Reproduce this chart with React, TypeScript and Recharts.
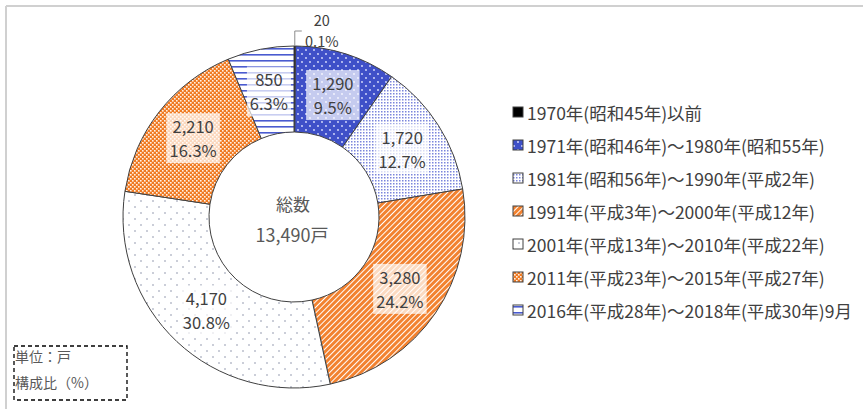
import React from 'react';
import { PieChart, Pie, Cell } from 'recharts';

const categories = [
  '1970年(昭和45年)以前',
  '1971年(昭和46年)～1980年(昭和55年)',
  '1981年(昭和56年)～1990年(平成2年)',
  '1991年(平成3年)～2000年(平成12年)',
  '2001年(平成13年)～2010年(平成22年)',
  '2011年(平成23年)～2015年(平成27年)',
  '2016年(平成28年)～2018年(平成30年)9月',
];
const values = [20, 1290, 1720, 3280, 4170, 2210, 850];
const valueLabels = ['20', '1,290', '1,720', '3,280', '4,170', '2,210', '850'];
const percentLabels = ['0.1%', '9.5%', '12.7%', '24.2%', '30.8%', '16.3%', '6.3%'];
const fills = ['#000000', 'url(#patBlue)', 'url(#patLight)', 'url(#patDiag)', 'url(#patDots)', 'url(#patCheck)', 'url(#patStripe)'];
const totalLabel = '総数';
const totalValue = '13,490戸';
const unitLines = ['単位：戸', '構成比（%）'];

const data = categories.map((name, i) => ({
  name,
  value: values[i],
  vLabel: valueLabels[i],
  pLabel: percentLabels[i],
  fill: fills[i],
}));

const FONT = '"Noto Sans CJK JP", "Noto Sans", sans-serif';
const RAD = Math.PI / 180;

const renderLabel = (props: any) => {
  const { cx, cy, midAngle, innerRadius, outerRadius, index } = props;
  const d = data[index];
  if (index === 0) {
    const px = cx + outerRadius * Math.cos(-midAngle * RAD);
    const py = cy + outerRadius * Math.sin(-midAngle * RAD);
    return (
      <g>
        <polyline points={`${px},${py} ${px},${py - 15} ${px + 7},${py - 15}`} fill="none" stroke="#8c8c8c" strokeWidth={1} />
        <text x={px + 27} y={py - 27} textAnchor="middle" dominantBaseline="central" fontSize={14.5} fill="#404040" fontFamily={FONT}>{d.vLabel}</text>
        <text x={px + 27} y={py - 6} textAnchor="middle" dominantBaseline="central" fontSize={14.5} fill="#404040" fontFamily={FONT}>{d.pLabel}</text>
      </g>
    );
  }
  const r = (innerRadius + outerRadius) / 2;
  const x = cx + r * Math.cos(-midAngle * RAD);
  const y = cy + r * Math.sin(-midAngle * RAD);
  const w = Math.max(d.vLabel.length, d.pLabel.length) * 9.5 + 6;
  return (
    <g>
      <rect x={x - w / 2} y={y - 25} width={w} height={50} fill="#ffffff" fillOpacity={0.7} />
      <text x={x} y={y - 12} textAnchor="middle" dominantBaseline="central" fontSize={16.5} fill="#404040" fontFamily={FONT}>{d.vLabel}</text>
      <text x={x} y={y + 12} textAnchor="middle" dominantBaseline="central" fontSize={16.5} fill="#404040" fontFamily={FONT}>{d.pLabel}</text>
    </g>
  );
};

const LEG_X = 513;
const LEG_Y = 112;
const LEG_STEP = 33;

export default function App() {
  return (
    <div style={{ position: 'absolute', left: 0, top: 0, width: 863, height: 409, background: '#fff' }}>
      <PieChart width={863} height={409} margin={{ top: 0, right: 0, bottom: 0, left: 0 }}>
        <defs>
          <pattern id="patBlue" patternUnits="userSpaceOnUse" width={8} height={8}>
            <rect width={8} height={8} fill="#3f50c8" />
            <circle cx={2} cy={2} r={0.9} fill="#dfe3ff" />
            <circle cx={6} cy={6} r={0.9} fill="#dfe3ff" />
          </pattern>
          <pattern id="patLight" patternUnits="userSpaceOnUse" width={3} height={3}>
            <rect width={3} height={3} fill="#ffffff" />
            <rect width={1.5} height={1.5} fill="#7b86dc" />
          </pattern>
          <pattern id="patDiag" patternUnits="userSpaceOnUse" width={4} height={4} patternTransform="rotate(45)">
            <rect width={4} height={4} fill="#f28230" />
            <rect width={1} height={4} fill="#ffffff" />
          </pattern>
          <pattern id="patDots" patternUnits="userSpaceOnUse" width={12} height={12}>
            <rect width={12} height={12} fill="#ffffff" />
            <circle cx={3} cy={3} r={0.8} fill="#8a90a8" />
            <circle cx={9} cy={9} r={0.8} fill="#8a90a8" />
          </pattern>
          <pattern id="patCheck" patternUnits="userSpaceOnUse" width={4} height={4}>
            <rect width={4} height={4} fill="#f07a22" />
            <rect x={0} y={0} width={1.6} height={1.6} fill="#fff2e6" />
            <rect x={2} y={2} width={1.6} height={1.6} fill="#fff2e6" />
          </pattern>
          <pattern id="patStripe" patternUnits="userSpaceOnUse" width={6} height={6}>
            <rect width={6} height={6} fill="#ffffff" />
            <rect y={0} width={6} height={1.6} fill="#4a5bd0" />
          </pattern>
        </defs>
        <line x1={6} y1={6} x2={863} y2={6} stroke="#d0d0d0" strokeWidth={2} />
        <line x1={6} y1={6} x2={6} y2={409} stroke="#d0d0d0" strokeWidth={2} />
        <Pie
          data={data}
          dataKey="value"
          nameKey="name"
          cx={294}
          cy={217}
          innerRadius={85}
          outerRadius={171}
          startAngle={90}
          endAngle={-270}
          stroke="#404040"
          strokeWidth={1}
          label={renderLabel}
          labelLine={false}
          isAnimationActive={false}
        >
          {data.map((d) => (
            <Cell key={d.name} fill={d.fill} />
          ))}
        </Pie>
        <text x={293} y={203} textAnchor="middle" dominantBaseline="central" fontSize={17} fill="#595959" fontFamily={FONT}>{totalLabel}</text>
        <text x={292} y={234} textAnchor="middle" dominantBaseline="central" fontSize={18} fill="#595959" fontFamily={FONT}>{totalValue}</text>
        <rect x={14} y={346} width={113} height={54} fill="none" stroke="#000" strokeWidth={1.3} strokeDasharray="4 3" />
        <text x={15} y={356} dominantBaseline="central" fontSize={14} fill="#595959" fontFamily={FONT}>{unitLines[0]}</text>
        <text x={15} y={382} dominantBaseline="central" fontSize={14} fill="#595959" fontFamily={FONT}>{unitLines[1]}</text>
        <g>
          {data.map((d, i) => (
            <g key={d.name}>
              <rect x={LEG_X} y={LEG_Y + i * LEG_STEP - 5} width={10} height={10} fill={d.fill} stroke="#404040" strokeWidth={1} />
              <text x={LEG_X + 14} y={LEG_Y + i * LEG_STEP} dominantBaseline="central" fontSize={17.5} fill="#404040" fontFamily={FONT}>{d.name}</text>
            </g>
          ))}
        </g>
      </PieChart>
    </div>
  );
}
